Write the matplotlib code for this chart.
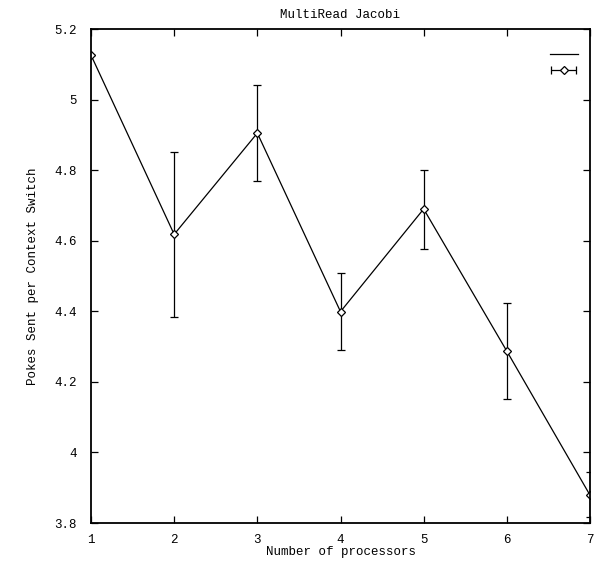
import matplotlib
matplotlib.use("Agg")
import matplotlib.pyplot as plt
from matplotlib.lines import Line2D
from matplotlib.legend_handler import HandlerErrorbar
from matplotlib.container import ErrorbarContainer
import numpy as np

procs = [1, 2, 3, 4, 5, 6, 7]
pokes = [5.126, 4.618, 4.905, 4.399, 4.690, 4.287, 3.879]
upper = [5.126, 4.851, 5.040, 4.508, 4.800, 4.423, 3.944]
lower = [5.126, 4.384, 4.769, 4.290, 4.577, 4.152, 3.818]
xticks = [1, 2, 3, 4, 5, 6, 7]
yticks = [3.8, 4.0, 4.2, 4.4, 4.6, 4.8, 5.0, 5.2]
ytick_labels = ["3.8", "4", "4.2", "4.4", "4.6", "4.8", "5", "5.2"]

plt.rcParams['font.family'] = ['Liberation Mono', 'DejaVu Sans Mono']
plt.rcParams['font.size'] = 9

W, H = 605, 573
fig = plt.figure(figsize=(W / 100, H / 100), dpi=100)
ax = fig.add_axes([91 / W, 1 - 523 / H, (590 - 91) / W, (523 - 29) / H])

y = np.array(pokes)
yerr = np.vstack([y - np.array(lower), np.array(upper) - y])

line, = ax.plot(procs, pokes, color='black', lw=0.9)
eb = ax.errorbar(procs, pokes, yerr=yerr, fmt='D', color='black', ms=4,
                 mfc='white', mew=0.9, ecolor='black', elinewidth=0.9,
                 capsize=3, capthick=0.9)

# legend proxy: horizontal error bar sample (gnuplot style key)
eb_key = ax.errorbar([np.nan], [np.nan], xerr=[[0.1], [0.1]], fmt='D',
                     color='black', ms=4, mfc='white', mew=0.9,
                     ecolor='black', elinewidth=0.9, capsize=3, capthick=0.9)

ax.set_xlim(1, 7)
ax.set_ylim(3.8, 5.2)
ax.set_xticks(xticks)
ax.set_xticklabels([str(v) for v in xticks])
ax.set_yticks(yticks)
ax.set_yticklabels(ytick_labels)
ax.tick_params(direction='in', length=5, width=0.9, top=True, right=True,
               labelsize=9)
ax.tick_params(axis='y', pad=10)
ax.tick_params(axis='x', pad=8)
for s in ax.spines.values():
    s.set_linewidth(1.3)

ax.set_title("MultiRead Jacobi", fontsize=9, pad=8)
ax.set_xlabel("Number of processors", fontsize=9, labelpad=0)
ax.set_ylabel("Pokes Sent per Context Switch", fontsize=9)
ax.yaxis.set_label_coords(-0.105, 0.5)

h1 = Line2D([], [], color='black', lw=0.9)
ax.legend([h1, eb_key], ["", ""], loc='upper right', frameon=False,
          handlelength=2.2, handletextpad=0.0, borderaxespad=0.6,
          labelspacing=0.35, bbox_to_anchor=(1.0, 0.985),
          handler_map={ErrorbarContainer: HandlerErrorbar(xerr_size=1.0)})

fig.savefig("out.png", dpi=100)
